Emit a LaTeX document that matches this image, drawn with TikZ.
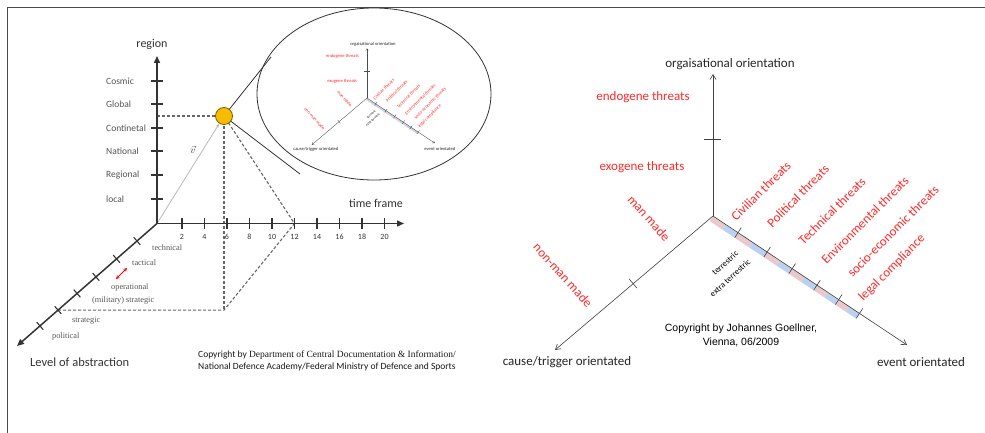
\documentclass[tikz,border=0pt]{standalone}
\usepackage{fontspec}
\setmainfont{Carlito}
\newfontfamily\arialf{Liberation Sans}
\newfontfamily\seriff{Liberation Serif}
\usetikzlibrary{calc,arrows.meta,shapes.geometric}
\definecolor{axisdark}{HTML}{333333}
\definecolor{labgray}{HTML}{555555}
\definecolor{ballfill}{HTML}{F7BC00}
\definecolor{balldraw}{HTML}{7A6200}
\definecolor{threatred}{HTML}{FF2A2A}
\definecolor{bandpink}{HTML}{E9C9CD}
\definecolor{bandblue}{HTML}{BCD1EF}
\definecolor{framegray}{HTML}{4A4A4A}

\newcommand\threatdiag[1]{%
  \coordinate (#1o) at (713,216);
  \coordinate (#1up) at (713,74);
  \coordinate (#1ca) at (555,350);
  \coordinate (#1ev) at (907,345);
  \path (#1o) ++(-1.7,2.6) coordinate (#1bo);
  \path (#1ev) ++(-1.7,2.6) coordinate (#1be);
  \foreach \ta/\tm/\tb in {0/0.065/0.129,0.129/0.204/0.279,0.279/0.344/0.408,0.408/0.472/0.536,0.536/0.592/0.648,0.648/0.702/0.755}{%
    \draw[bandstyle, draw=bandpink] ($(#1bo)!\ta!(#1be)$) -- ($(#1bo)!\tm!(#1be)$);
    \draw[bandstyle, draw=bandblue] ($(#1bo)!\tm!(#1be)$) -- ($(#1bo)!\tb!(#1be)$);
  }
  \draw[raxis, rarrow] (#1o) -- (#1up);
  \draw[raxis, rarrow] (#1o) -- (#1ca);
  \draw[raxis, rarrow] (#1o) -- (#1ev);
  \draw[rtick] (704,139) -- (721,139);
  \draw[rtick] (633,283.5) +(4,4.6) -- +(-4,-4.6);
  \foreach \tk in {0.129,0.279,0.408,0.536,0.648,0.755}{%
    \draw[rtick] ($(#1o)!\tk!(#1ev)$) +(3.3,-5) -- +(-3.3,5);
  }
  \node[axislab] (#1toplab) at (730,64) {orgaisational orientation};
  \node[axislab] (#1calab) at (567,362) {cause/trigger orientated};
  \node[axislab] (#1evlab) at (921,362) {event orientated};
  \node[redlab] (#1endo) at (643,97) {endogene threats};
  \node[redlab] (#1exo) at (642,167) {exogene threats};
  \node[redlab, rotate=-48] (#1man) at (649,218) {man made};
  \node[redlab, rotate=-48] (#1nonman) at (563,275) {non-man made};
  \node[redlab, rotate=45] (#1civ) at (761,191) {Civilian threats};
  \node[redlab, rotate=45] (#1pol) at (798,196) {Political threats};
  \node[redlab, rotate=45] (#1tec) at (832,211) {Technical threats};
  \node[redlab, rotate=45] (#1env) at (865,220) {Environmental threats};
  \node[redlab, rotate=45] (#1soc) at (893,231) {socio-economic threats};
  \node[redlab, rotate=45] (#1leg) at (892,268) {legal compliance};
  \node[smalllab, rotate=42] (#1ter) at (725,263) {terrestric};
  \node[smalllab, rotate=42] (#1xter) at (730,278) {extra terrestric};
}

\begin{document}
\begin{tikzpicture}[x=1pt,y=-1pt,
  laxis/.style={draw=axisdark, line width=1.5},
  ltick/.style={draw=axisdark, line width=1.1},
  ldash/.style={draw=gray!80!black, line width=1.1, dash pattern=on 3pt off 2pt},
  rlab/.style={font=\fontsize{9.5}{11}\selectfont, text=labgray, inner sep=0, anchor=west},
  tlab/.style={font=\fontsize{8}{9}\selectfont, text=axisdark, inner sep=0},
  alab/.style={font=\seriff\fontsize{8.3}{9}\selectfont, text=labgray, inner sep=0, anchor=west},
  biglab/.style={font=\fontsize{12}{14}\selectfont, text=axisdark, inner sep=0},
  raxis/.style={draw=black!75, line width=0.6},
  rarrow/.style={-{Straight Barb[length=5pt,width=6pt]}},
  rtick/.style={draw=black!75, line width=0.6},
  axislab/.style={font=\fontsize{13}{15}\selectfont, text=black!85, inner sep=0},
  redlab/.style={font=\fontsize{13}{15}\selectfont, text=threatred, inner sep=0},
  smalllab/.style={font=\fontsize{8.5}{10}\selectfont, text=black, inner sep=0},
  bandstyle/.style={line width=6pt},
]
\useasboundingbox (0,0) rectangle (985,433);
\fill[white] (0,0) rectangle (985,433);
% frame
\draw[framegray, line width=1.6] (7.5,433) -- (7.5,7.5) -- (985,7.5);

%%%%%%%% LEFT DIAGRAM %%%%%%%%
\coordinate (O) at (157,223.5);
\coordinate (Rtop) at (157,56);
\coordinate (Tend) at (404,223.5);
\coordinate (Aend) at (17,346);

% lens ellipse
\node[ellipse, draw=black!80, line width=0.8, minimum width=234, minimum height=172, inner sep=0] (lens) at (374,94) {};
\coordinate (tanU) at (271,57);
\coordinate (tanL) at (300,174);

% ball position
\coordinate (ballc) at (224,116);

% dashed projections
\coordinate (Aproj) at ($(O)!0.707!(Aend)$);
\coordinate (Pbot) at (ballc |- Aproj);
\coordinate (T12) at (294.5,223.5);
\draw[ldash] (O |- ballc) -- (ballc);
\draw[ldash] (ballc) -- (Pbot);
\draw[ldash] (Aproj) -- (Pbot) -- (T12) -- (ballc);

% cone lines
\draw[black!80, line width=0.8] (ballc) -- (tanU);
\draw[black!80, line width=0.8] (ballc) -- (tanL);

% vector
\draw[gray!55, line width=0.8, -{Stealth[length=4pt,width=3pt]}] (O) -- ($(O)!0.93!(ballc)$);
\node[font=\fontsize{10}{12}\selectfont, text=axisdark] (vlab) at (193,150) {$\vec{v}$};

% axes
\draw[laxis, -{Triangle[length=7pt,width=6pt]}] (O) -- (Rtop);
\draw[laxis, -{Triangle[length=7pt,width=6pt]}] (O) -- (Tend);
\draw[laxis, -{Triangle[length=7pt,width=6pt]}] (O) -- (Aend);

\node[biglab] (region) at (152,44) {region};
\node[biglab] (timeframe) at (376,203) {time frame};
\node[biglab, font=\fontsize{12.5}{14}\selectfont, anchor=west] (level) at (30,362) {Level of abstraction};

% region ticks
\foreach \yy/\lab/\nm in {81/Cosmic/cosmic,104/Global/global,128/Continetal/conti,151/National/national,175/Regional/regional,199/local/local}{%
  \draw[ltick] (151,\yy) -- (163,\yy);
  \node[rlab] (\nm) at (106,\yy) {\lab};
}
% time ticks
\foreach \i/\lab in {1/2,2/4,3/6,4/8,5/10,6/12,7/14,8/16,9/18,10/20}{%
  \pgfmathsetmacro\xx{159.5+22.5*\i}
  \draw[ltick] (\xx,218) -- (\xx,229);
  \node[tlab] (t\lab) at (\xx,236.5) {\lab};
}
% abstraction ticks
\foreach \f in {0.143,0.289,0.436,0.571,0.707,0.836}{%
  \draw[ltick] ($(O)!\f!(Aend)$) +(3.3,3.8) -- +(-3.3,-3.8);
}
\node[alab] (technical) at (152,248) {technical};
\node[alab] (tactical) at (132,263) {tactical};
\node[alab] (operational) at (111,288) {operational};
\node[alab] (milstrat) at (92,301) {(military) strategic};
\node[alab] (strategic) at (72,321) {strategic};
\node[alab] (political) at (52,337) {political};
\coordinate (dA) at (116,279);
\coordinate (dB) at (127,268);
\draw[red, line width=1, {Stealth[length=3.5pt,width=3.5pt]}-{Stealth[length=3.5pt,width=3.5pt]}] (dA) -- (dB);

% ball
\node[circle, fill=ballfill, draw=balldraw, line width=0.8, minimum size=17, inner sep=0] (ball) at (ballc) {};

% copyright left
\node[anchor=west, align=left, inner sep=0, text=black!90, font=\fontsize{9.5}{12}\selectfont] (copyL) at (198,361)
  {Copyright by {\seriff Department of Central Documentation \& Information/}\\National Defence Academy/Federal Ministry of Defence and Sports};

% mini diagram in the lens
\begin{scope}[shift={(367,98)}, scale=0.35, transform shape, shift={(-713,-216)},
  rarrow/.style={-{Straight Barb[length=2pt,width=2.5pt]}},
  raxis/.style={draw=black!70, line width=0.35},
  rtick/.style={draw=black!70, line width=0.35},
  bandstyle/.style={line width=2.1pt}]
  \threatdiag{m}
\end{scope}

%%%%%%%% RIGHT DIAGRAM %%%%%%%%
\threatdiag{r}
\node[font=\arialf\fontsize{10.5}{14}\selectfont, align=center, inner sep=0, text=black] (copyR) at (741,335)
  {Copyright by Johannes Goellner,\\Vienna, 06/2009};
\end{tikzpicture}
\end{document}
